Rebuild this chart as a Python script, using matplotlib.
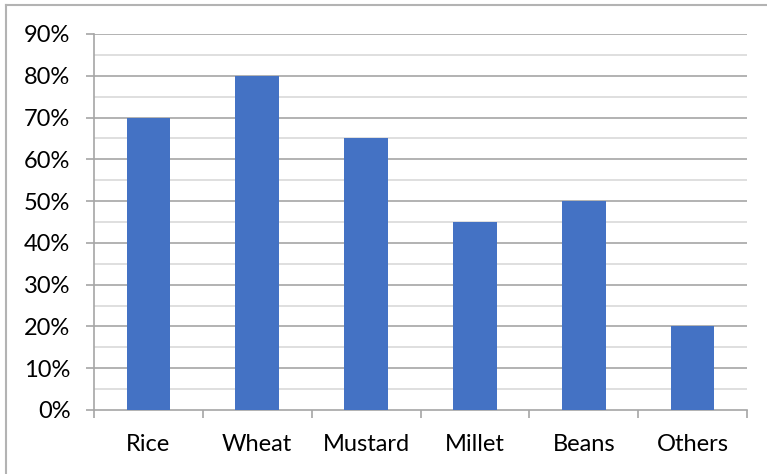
import numpy as np
import matplotlib.pyplot as plt
from matplotlib.lines import Line2D
from matplotlib.ticker import FixedLocator, FuncFormatter

categories = ["Rice", "Wheat", "Mustard", "Millet", "Beans", "Others"]
values = [0.70, 0.80, 0.65, 0.45, 0.50, 0.20]

W, H = 767, 474
fig = plt.figure(figsize=(W / 100, H / 100), dpi=100)
plt.rcParams['font.family'] = ['Lato', 'DejaVu Sans']

# plot area in pixels: x 94..747, y 34..410
ax = fig.add_axes([94 / W, 1 - 410 / H, (747 - 94) / W, (410 - 34) / H])

x = np.arange(len(categories))
ax.bar(x, values, width=0.4, color="#4472C4", zorder=3)

ax.set_xlim(-0.5, len(categories) - 0.5)
ax.set_ylim(0, 0.9)

# gridlines: major every 10%, minor every 5%
for v in np.arange(0.05, 0.9, 0.1):
    ax.axhline(v, color="#d9d9d9", lw=1.2, zorder=1)
for v in np.arange(0.1, 0.91, 0.1):
    ax.axhline(v, color="#a6a6a6", lw=1.2, zorder=2)

for s in ["top", "right"]:
    ax.spines[s].set_visible(False)
ax.spines["left"].set_color("#a6a6a6")
ax.spines["bottom"].set_color("#a6a6a6")
ax.spines["left"].set_linewidth(1.2)
ax.spines["bottom"].set_linewidth(1.2)

ax.set_yticks(np.arange(0, 0.91, 0.1))
ax.yaxis.set_major_formatter(FuncFormatter(lambda v, p: f"{v * 100:.0f}%"))
ax.tick_params(axis="y", length=6, width=1.2, color="#a6a6a6", labelsize=17, pad=11)

# category labels centered, tick marks at boundaries
ax.xaxis.set_major_locator(FixedLocator(np.arange(-0.5, len(categories))))
ax.set_xticklabels([""] * (len(categories) + 1))
ax.tick_params(axis="x", which="major", length=6, width=1.2, color="#a6a6a6")
ax.set_xticks(x, minor=True)
ax.set_xticklabels(categories, minor=True)
ax.tick_params(axis="x", which="minor", length=0, labelsize=17, pad=17)

# outer chart border
fig.add_artist(Line2D([6 / W, 1], [1 - 5 / H, 1 - 5 / H], color="#b3b3b3", lw=1.5))
fig.add_artist(Line2D([6 / W, 6 / W], [0, 1 - 5 / H], color="#b3b3b3", lw=1.5))

fig.savefig("out.png", dpi=100)
